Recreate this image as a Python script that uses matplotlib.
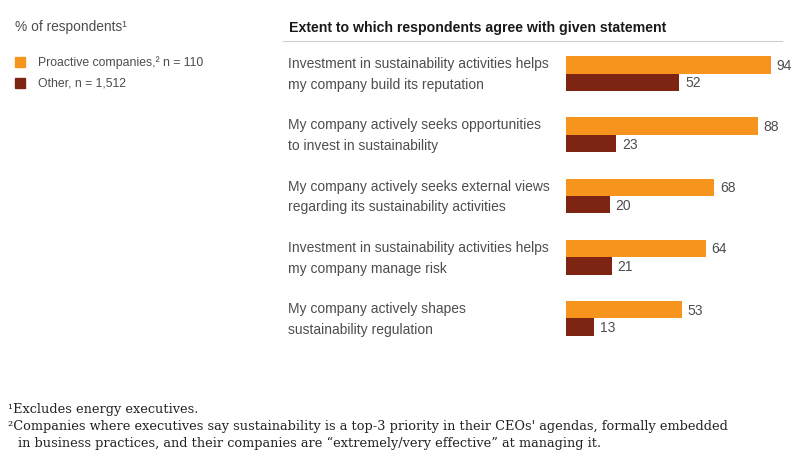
import matplotlib.pyplot as plt
import matplotlib.transforms as mtransforms
from matplotlib.patches import Rectangle
from matplotlib.lines import Line2D

statements = [
    "Investment in sustainability activities helps\nmy company build its reputation",
    "My company actively seeks opportunities\nto invest in sustainability",
    "My company actively seeks external views\nregarding its sustainability activities",
    "Investment in sustainability activities helps\nmy company manage risk",
    "My company actively shapes\nsustainability regulation",
]
proactive = [94, 88, 68, 64, 53]
other = [52, 23, 20, 21, 13]
series_names = ["Proactive companies,\u00b2 n = 110", "Other, n = 1,512"]

orange = "#F7941D"
dark = "#7D2413"
grey = "#4d4d4d"
sans = ["Liberation Sans", "DejaVu Sans"]
serif = ["DejaVu Serif", "Liberation Serif"]

fig = plt.figure(figsize=(7.96, 4.56), dpi=100)
W, H = 796, 456

# bar axes, placed in pixel units of the figure
ax = fig.add_axes([566 / W, 1 - 350 / H, 218 / W, 306 / H])
ys = list(range(len(statements)))
bh = 0.285
ax.barh([y - bh / 2 for y in ys], proactive, height=bh, color=orange)
ax.barh([y + bh / 2 for y in ys], other, height=bh, color=dark)
ax.set_xlim(0, 100)
ax.set_ylim(len(statements) - 0.5, -0.5)
ax.axis("off")

for y, p, o in zip(ys, proactive, other):
    ax.text(p + 2.6, y - bh / 2, str(p), va="center", ha="left",
            fontsize=10, color=grey, family=sans)
    ax.text(o + 2.6, y + bh / 2, str(o), va="center", ha="left",
            fontsize=10, color=grey, family=sans)

# statement labels on the left of bars
tr = mtransforms.blended_transform_factory(fig.transFigure, ax.transData)
for y, s in zip(ys, statements):
    ax.text(288 / W, y, s, transform=tr, va="center", ha="left",
            fontsize=10, color=grey, family=sans, linespacing=1.6)

# header
fig.text(289 / W, 1 - 28 / H, "Extent to which respondents agree with given statement",
         fontsize=10.2, fontweight="bold", color="#1a1a1a", family=sans, va="center")
fig.add_artist(Line2D([283 / W, 782 / W], [1 - 42 / H, 1 - 42 / H],
                      color="#cccccc", lw=0.8, transform=fig.transFigure))

# legend block
fig.text(15 / W, 1 - 27 / H, "% of respondents\u00b9", fontsize=9.9, color=grey,
         family=sans, va="center")
for i, (name, c) in enumerate(zip(series_names, [orange, dark])):
    yc = 63 + i * 21
    fig.add_artist(Rectangle((15 / W, 1 - (yc + 5) / H), 10 / W, 10 / H,
                             color=c, transform=fig.transFigure))
    fig.text(38 / W, 1 - yc / H, name, fontsize=8.8, color=grey, family=sans,
             va="center")

# footnotes
fn = dict(fontsize=9.3, color="#222222", family=serif, va="center")
fig.text(8 / W, 1 - 410 / H, "\u00b9Excludes energy executives.", **fn)
fig.text(8 / W, 1 - 427 / H,
         "\u00b2Companies where executives say sustainability is a top-3 priority in their CEOs' agendas, formally embedded",
         **fn)
fig.text(18 / W, 1 - 443 / H,
         "in business practices, and their companies are \u201cextremely/very effective\u201d at managing it.",
         **fn)

fig.savefig("out.png", dpi=100)
